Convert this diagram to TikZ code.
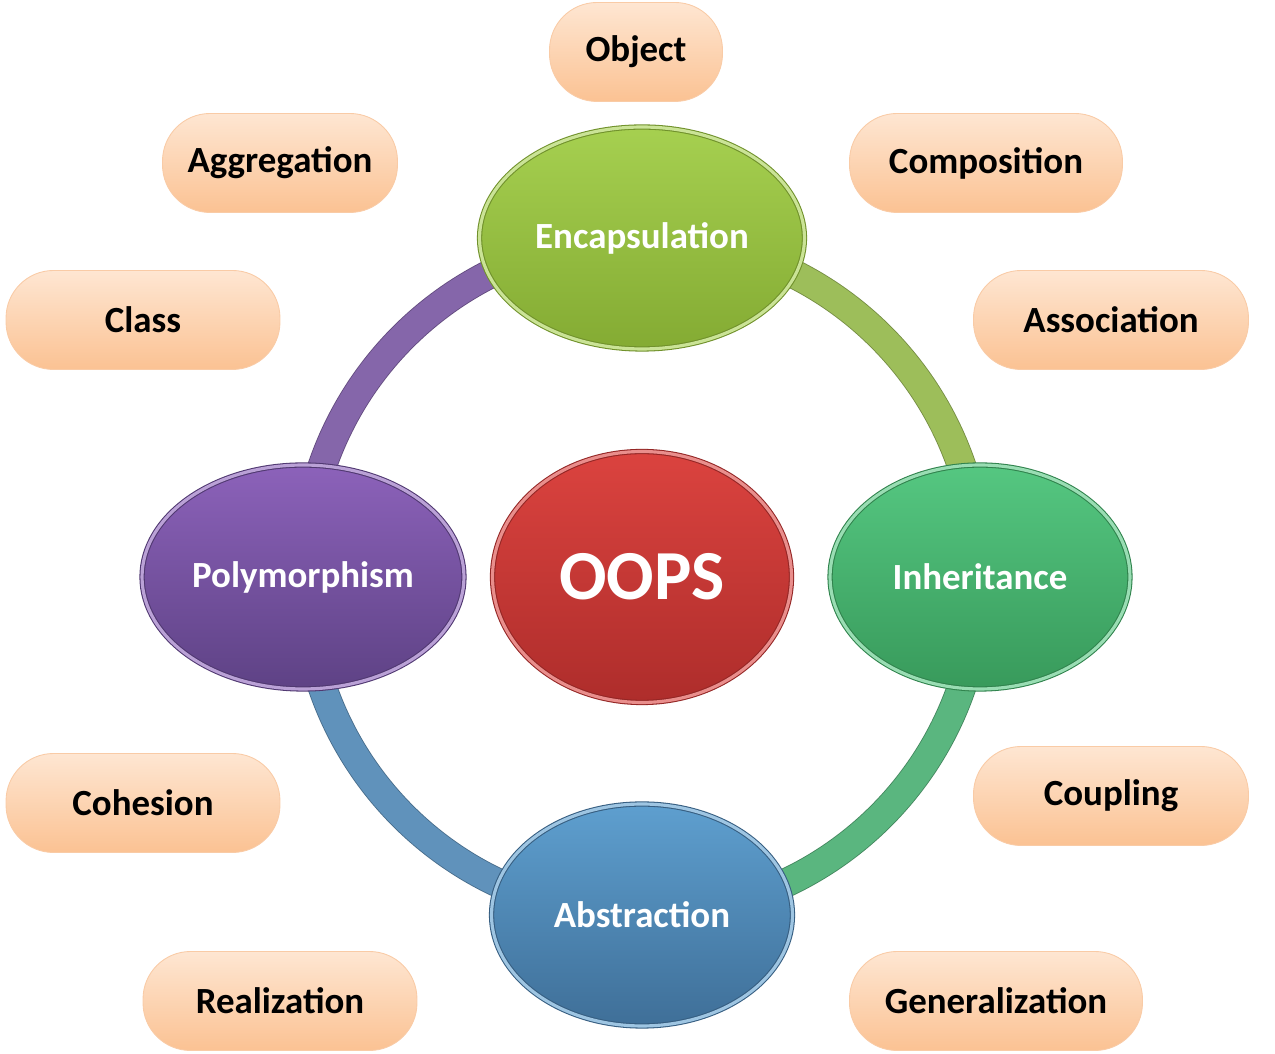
\documentclass[tikz,border=0pt]{standalone}
\usepackage{fontspec}
\setmainfont{Carlito}
\usepackage{tikz}
\usetikzlibrary{shapes.geometric, backgrounds}

% colours of the diagram
\definecolor{pillTop}{HTML}{FEE6D2}
\definecolor{pillBot}{HTML}{FBC293}
\definecolor{pillEdge}{HTML}{F9CBA6}
\definecolor{encTop}{HTML}{A6D050}
\definecolor{encBot}{HTML}{84AB33}
\definecolor{inhTop}{HTML}{55C781}
\definecolor{inhBot}{HTML}{389A5B}
\definecolor{absTop}{HTML}{5E9FCF}
\definecolor{absBot}{HTML}{3F6F98}
\definecolor{polTop}{HTML}{8C62BA}
\definecolor{polBot}{HTML}{5E4285}
\definecolor{oopTop}{HTML}{DB433F}
\definecolor{oopBot}{HTML}{AE2D2B}
\definecolor{ringPur}{HTML}{8566AA}
\definecolor{ringLim}{HTML}{9DBE5A}
\definecolor{ringGrn}{HTML}{5AB67F}
\definecolor{ringBlu}{HTML}{6092BB}

\tikzset{
  pill/.style={rectangle, rounded corners=0.95cm, minimum height=1.98cm,
    top color=pillTop, bottom color=pillBot, draw=pillEdge, line width=0.5pt,
    font=\fontsize{21}{24}\selectfont\bfseries, text=black},
  core/.style={ellipse, inner sep=0pt, text=white, line width=0.6pt,
    double distance=1.8pt, font=\fontsize{21}{24}\selectfont\bfseries},
  ring/.style={line width=0.5pt, double distance=0.55cm}
}

\begin{document}
\begin{tikzpicture}[x=0.02cm, y=0.02cm]
    \useasboundingbox (0,0) rectangle (1275,1054);

    % the four principles
    \node[core, minimum width=6.5cm, minimum height=4.44cm, top color=encTop, bottom color=encBot,
      draw=encBot!85!black, double=encTop!60!white] (enc) at (642,816) {Encapsulation};
    \node[core, minimum width=6.0cm, minimum height=4.48cm, top color=inhTop, bottom color=inhBot,
      draw=inhBot!85!black, double=inhTop!60!white] (inh) at (980,477) {Inheritance};
    \node[core, minimum width=6.02cm, minimum height=4.44cm, top color=absTop, bottom color=absBot,
      draw=absBot!85!black, double=absTop!60!white] (abs) at (642,139) {Abstraction};
    \node[core, minimum width=6.44cm, minimum height=4.48cm, top color=polTop, bottom color=polBot,
      draw=polBot!85!black, double=polTop!60!white] (pol) at (303,477) {Polymorphism};

    % centre
    \node[core, minimum width=5.98cm, minimum height=5.02cm, top color=oopTop, bottom color=oopBot,
      draw=oopBot!85!black, double=oopTop!60!white, font=\fontsize{40}{44}\selectfont\bfseries] (oops) at (642,477) {OOPS};

    % ring behind them
    \begin{pgfonlayer}{background}
    \draw[ring, draw=ringPur!75!black, double=ringPur] (enc.center) arc[start angle=90, end angle=180, radius=338];
    \draw[ring, draw=ringLim!75!black, double=ringLim] (enc.center) arc[start angle=90, end angle=0, radius=338];
    \draw[ring, draw=ringGrn!75!black, double=ringGrn] (inh.center) arc[start angle=0, end angle=-90, radius=338];
    \draw[ring, draw=ringBlu!75!black, double=ringBlu] (abs.center) arc[start angle=270, end angle=180, radius=338];
    \end{pgfonlayer}

    % related terms
    \node[pill, minimum width=3.46cm] (obj) at (636,1002) {Object};
    \node[pill, minimum width=4.70cm] (agg) at (280,891) {Aggregation};
    \node[pill, minimum width=5.46cm] (cmp) at (986,891) {Composition};
    \node[pill, minimum width=5.48cm] (cls) at (143,734) {Class};
    \node[pill, minimum width=5.50cm] (asc) at (1111,734) {Association};
    \node[pill, minimum width=5.48cm] (coh) at (143,251) {Cohesion};
    \node[pill, minimum width=5.50cm] (cpl) at (1111,258) {Coupling};
    \node[pill, minimum width=5.48cm] (rea) at (280,53) {Realization};
    \node[pill, minimum width=5.86cm] (gen) at (996,53) {Generalization};
\end{tikzpicture}
\end{document}
